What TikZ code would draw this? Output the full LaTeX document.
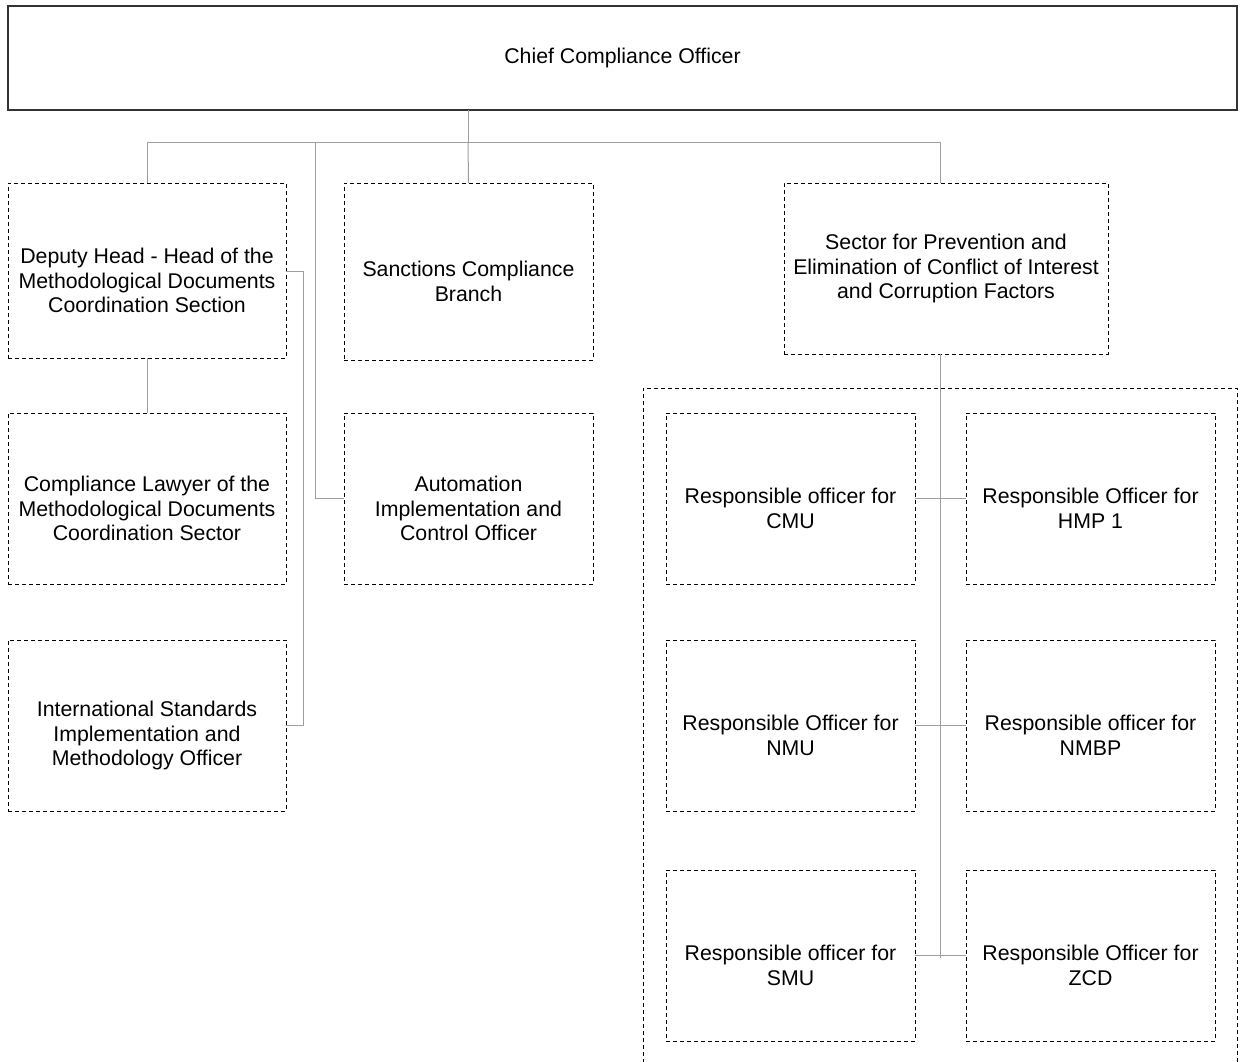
\documentclass[tikz,border=0pt]{standalone}
\usepackage{fontspec}
\setmainfont{Liberation Sans}
\begin{document}
\begin{tikzpicture}[x=1pt,y=-1pt,
  boxtext/.style={align=center, font=\fontsize{21.3}{24.5}\selectfont},
  unitbox/.style={draw=black, line width=0.9pt, dash pattern=on 4pt off 3pt,
    anchor=north west, inner sep=0pt, outer sep=0pt},
  % dashed unit whose caption sits a little below the middle
  unit/.style={unitbox, label={[boxtext, yshift=-10pt]center:{#1}}},
  head/.style={boxtext, draw=black!80, line width=1.4pt, anchor=north west,
    inner sep=0pt, outer sep=0pt},
  link/.style={draw=black!38, line width=1pt},
  frame/.style={draw=black, line width=0.9pt, dash pattern=on 4pt off 3pt}]
\useasboundingbox (0,0) rectangle (1240,1061);

% top of the chart
\node[head, minimum width=1229pt, minimum height=104pt] (cco) at (8,6) {Chief Compliance Officer};

% first level
\node[unit={Deputy Head - Head of the\\Methodological Documents\\Coordination Section},
  minimum width=278pt, minimum height=175pt] (dep) at (8,183) {};
\node[unit={Sanctions Compliance\\Branch},
  minimum width=249pt, minimum height=177pt] (san) at (344,183) {};
\node[unitbox, boxtext, minimum width=324pt, minimum height=171pt] (sec) at (784,183)
  {Sector for Prevention and\\Elimination of Conflict of Interest\\and Corruption Factors};

% left column
\node[unit={Compliance Lawyer of the\\Methodological Documents\\Coordination Sector},
  minimum width=278pt, minimum height=171pt] (law) at (8,413) {};
\node[unit={International Standards\\Implementation and\\Methodology Officer},
  minimum width=278pt, minimum height=171pt] (isi) at (8,640) {};
\node[unit={Automation\\Implementation and\\Control Officer},
  minimum width=249pt, minimum height=171pt] (aut) at (344,413) {};

% sector group
\draw[frame] (643,1070) -- (643,388) -- (1237,388) -- (1237,1070);
\node[unit={Responsible officer for\\CMU},
  minimum width=249pt, minimum height=171pt] (cmu) at (666,413) {};
\node[unit={Responsible Officer for\\HMP 1},
  minimum width=249pt, minimum height=171pt] (hmp) at (966,413) {};
\node[unit={Responsible Officer for\\NMU},
  minimum width=249pt, minimum height=171pt] (nmu) at (666,640) {};
\node[unit={Responsible officer for\\NMBP},
  minimum width=249pt, minimum height=171pt] (nmb) at (966,640) {};
\node[unit={Responsible officer for\\SMU},
  minimum width=249pt, minimum height=171pt] (smu) at (666,870) {};
\node[unit={Responsible Officer for\\ZCD},
  minimum width=249pt, minimum height=171pt] (zcd) at (966,870) {};

% connectors
\coordinate (bus) at (468,142);
\coordinate (secdrop) at (940,142);
\draw[link] (cco.south -| bus) -- (bus);
\draw[link] (dep.north) |- (secdrop) -- (secdrop |- sec.north);
\draw[link] (bus) -- (san.north);
\draw[link] (315,142) |- (aut.west);
\draw[link] (dep.east |- 0,271) -- (303,271) |- (isi.east);
\draw[link] (dep.south) -- (law.north);
\draw[link] (secdrop |- sec.south) -- (940,958);
\draw[link] (cmu.east) -- (hmp.west);
\draw[link] (nmu.east) -- (nmb.west);
\draw[link] (smu.east) -- (zcd.west);
\end{tikzpicture}
\end{document}
